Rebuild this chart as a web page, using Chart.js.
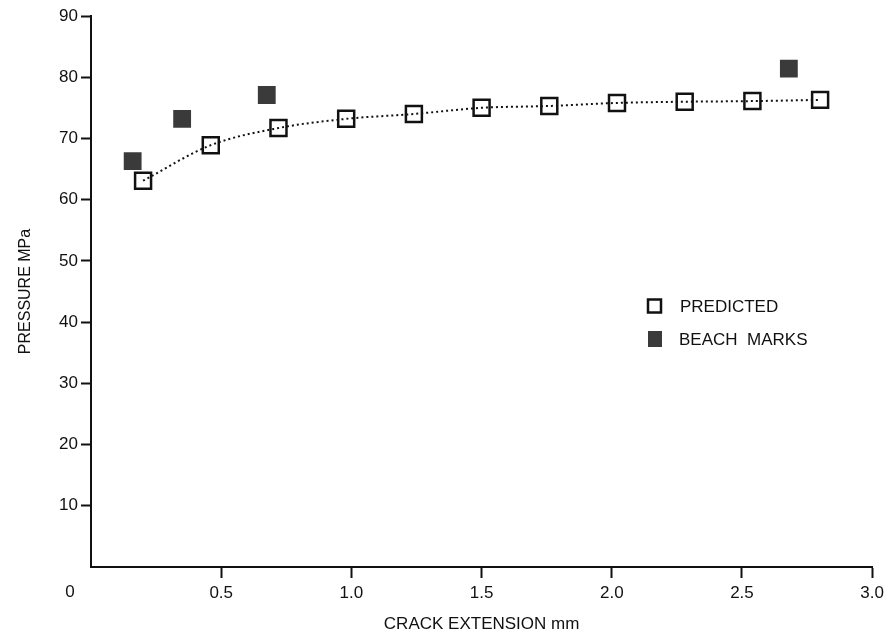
<!DOCTYPE html>
<html>
<head>
<meta charset="utf-8">
<script src="https://cdn.jsdelivr.net/npm/chart.js@4"></script>
<style>
    html, body { margin: 0; padding: 0; background: #fff; }
    #wrap { width: 889px; height: 640px; }
</style>
</head>
<body>
<div id="wrap"><canvas id="chart"></canvas></div>
<script>
// Values.
const predictedX = [0.20, 0.46, 0.72, 0.98, 1.24, 1.50, 1.76, 2.02, 2.28, 2.54, 2.80];
const predictedY = [63.1, 68.9, 71.7, 73.2, 74.0, 75.0, 75.3, 75.8, 76.0, 76.1, 76.3];
const beachX = [0.16, 0.35, 0.675, 2.68];
const beachY = [66.3, 73.2, 77.1, 81.4];
const seriesNames = ['PREDICTED', 'BEACH  MARKS'];
const xTitle = 'CRACK EXTENSION mm';
const yTitle = 'PRESSURE MPa';

const INK = '#111';
const MARK = '#3a3a3a';
const FONT = '"Liberation Sans", Arial, Helvetica, sans-serif';

function toPoints(xs, ys) {
    return xs.map((x, i) => ({ x: x, y: ys[i] }));
}

// Hide the tick mark sitting at the origin.
function tickColorNoZero(ctx) {
    return (ctx.tick && ctx.tick.value === 0) ? 'rgba(0,0,0,0)' : INK;
}

// Origin "0" label and the legend inside the plot.
const extrasPlugin = {
    id: 'extras',
    afterDraw(chart) {
        const ctx = chart.ctx;
        const xs = chart.scales.x;
        const area = chart.chartArea;
        ctx.save();
        ctx.fillStyle = INK;
        ctx.font = '17px ' + FONT;
        ctx.textAlign = 'center';
        ctx.textBaseline = 'middle';
        ctx.fillText('0', xs.getPixelForValue(0) - 21, area.bottom + 25);

        // legend
        const lx = 648, ly = 306, gap = 33;
        ctx.lineWidth = 2.5;
        ctx.strokeStyle = INK;
        ctx.fillStyle = '#fff';
        ctx.fillRect(lx, ly - 6.5, 13, 13);
        ctx.strokeRect(lx, ly - 6.5, 13, 13);
        ctx.fillStyle = MARK;
        ctx.fillRect(lx, ly + gap - 8, 14, 16);

        ctx.fillStyle = INK;
        ctx.textAlign = 'left';
        ctx.font = '17px ' + FONT;
        ctx.fillText(seriesNames[0], lx + 32, ly + 1);
        ctx.fillText(seriesNames[1], lx + 31, ly + gap + 1);
        ctx.restore();
    }
};

const config = {
    type: 'scatter',
    data: {
        datasets: [
            {
                label: seriesNames[0],
                data: toPoints(predictedX, predictedY),
                showLine: true,
                cubicInterpolationMode: 'monotone',
                borderColor: INK,
                borderWidth: 2,
                borderDash: [2, 3],
                pointStyle: 'rect',
                pointRadius: 11.3,
                pointBorderWidth: 2.5,
                pointBorderColor: INK,
                pointBackgroundColor: 'rgba(255,255,255,0)'
            },
            {
                label: seriesNames[1],
                data: toPoints(beachX, beachY),
                showLine: false,
                pointStyle: 'rect',
                pointRadius: 12.6,
                pointBorderWidth: 0,
                pointBorderColor: MARK,
                pointBackgroundColor: MARK
            }
        ]
    },
    options: {
        responsive: true,
        maintainAspectRatio: false,
        animation: false,
        devicePixelRatio: 1,
        layout: {
            padding: { top: 16, right: 16, left: 0, bottom: 0 }
        },
        plugins: {
            legend: { display: false },
            tooltip: { enabled: false }
        },
        scales: {
            x: {
                type: 'linear',
                min: 0,
                max: 3,
                afterFit: (scale) => { scale.height = 73; },
                border: { color: INK, width: 2 },
                grid: {
                    drawOnChartArea: false,
                    drawTicks: true,
                    tickLength: 11,
                    tickWidth: 2,
                    tickColor: tickColorNoZero
                },
                ticks: {
                    stepSize: 0.5,
                    padding: 5,
                    color: INK,
                    maxRotation: 0,
                    font: { family: FONT, size: 17 },
                    callback: (v) => v === 0 ? '' : v.toFixed(1)
                },
                title: {
                    display: true,
                    text: xTitle,
                    color: INK,
                    font: { family: FONT, size: 17 },
                    padding: { top: 0, bottom: 5 }
                }
            },
            y: {
                type: 'linear',
                min: 0,
                max: 90,
                afterFit: (scale) => { scale.width = 91; },
                border: { color: INK, width: 2 },
                grid: {
                    drawOnChartArea: false,
                    drawTicks: true,
                    tickLength: 10,
                    tickWidth: 2,
                    tickColor: tickColorNoZero
                },
                ticks: {
                    stepSize: 10,
                    padding: 3,
                    color: INK,
                    font: { family: FONT, size: 17 },
                    callback: (v) => v === 0 ? '' : v
                },
                title: {
                    display: true,
                    text: yTitle,
                    color: INK,
                    font: { family: FONT, size: 16 },
                    padding: { top: 16, bottom: 0 }
                }
            }
        }
    },
    plugins: [extrasPlugin]
};

new Chart(document.getElementById('chart'), config);
</script>
</body>
</html>
